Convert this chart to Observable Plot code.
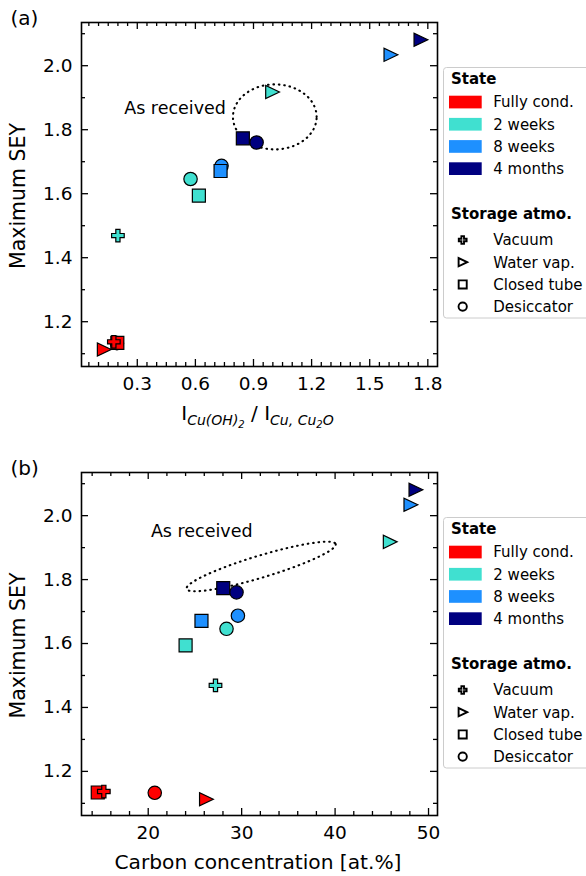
<!DOCTYPE html>
<html><head><meta charset="utf-8">
<script src="https://cdn.jsdelivr.net/npm/d3@7"></script>
<script src="https://cdn.jsdelivr.net/npm/@observablehq/plot@0.6"></script>
<style>
body{margin:0;background:#fff;}
#root{position:relative;width:586px;height:876px;font-family:"DejaVu Sans",sans-serif;overflow:hidden;background:#fff;}
.panel{position:absolute;left:0;}
.legend{position:absolute;left:443px;}
</style></head><body><div id="root"></div>
<script>
// ---------- data ----------
const states = ["Fully cond.", "2 weeks", "8 weeks", "4 months"];
const stateColors = ["#ff0000", "#40e0d0", "#1e90ff", "#000080"];
const atmos = ["Vacuum", "Water vap.", "Closed tube", "Desiccator"];

// samples, in drawing order
const sampleState = ["Fully cond.","Fully cond.","Fully cond.","Fully cond.",
  "2 weeks","2 weeks","2 weeks","2 weeks",
  "8 weeks","8 weeks","8 weeks",
  "4 months","4 months","4 months"];
const sampleAtmo = ["Desiccator","Water vap.","Closed tube","Vacuum",
  "Vacuum","Water vap.","Closed tube","Desiccator",
  "Water vap.","Desiccator","Closed tube",
  "Water vap.","Closed tube","Desiccator"];
const maxSEY =    [1.133, 1.113, 1.134, 1.137, 1.469, 1.918, 1.594, 1.646, 2.034, 1.687, 1.671, 2.081, 1.773, 1.760];
const ratioCuOH = [0.195, 0.128, 0.197, 0.179, 0.200, 0.997, 0.618, 0.575, 1.608, 0.735, 0.730, 1.763, 0.845, 0.916];
const carbon =    [20.7, 26.2, 14.6, 15.25, 27.2, 45.87, 24.0, 28.38, 48.08, 29.6, 25.7, 48.62, 28.03, 29.45];

// ticks
const yMajor = [1.2, 1.4, 1.6, 1.8, 2.0];
const yMinor = [1.1, 1.3, 1.5, 1.7, 1.9, 2.1];
const xMajorA = [0.3, 0.6, 0.9, 1.2, 1.5, 1.8];
const xMinorA = [0.05,0.1,0.15,0.2,0.25,0.35,0.4,0.45,0.5,0.55,0.65,0.7,0.75,0.8,0.85,0.95,1.0,1.05,1.1,1.15,1.25,1.3,1.35,1.4,1.45,1.55,1.6,1.65,1.7,1.75];
const xMajorB = [20, 30, 40, 50];
const xMinorB = [14, 16, 18, 22, 24, 26, 28, 32, 34, 36, 38, 42, 44, 46, 48];

// annotations: ellipse [cx, cy, semi-axis-1 (dx, dy), semi-axis-2 (dx, dy)] in data units
const ellipseA = [1.01, 1.84, 0.216, 0, 0, 0.1016];
const ellipseB = [32.08, 1.841, 7.98, 0.0703, 0.34, -0.0329];
const noteA = {x: 0.495, y: 1.8675, t: "As received"};
const noteB = {x: 25.73, y: 1.951, t: "As received"};

// ---------- symbols (matplotlib-like markers) ----------
const sc = size => Math.sqrt(size / Math.PI) / 7;
const symPlus = {draw(c, size){ const s = sc(size), a = 6.3*s, b = 2.1*s;
  c.moveTo(-b,-a); c.lineTo(b,-a); c.lineTo(b,-b); c.lineTo(a,-b); c.lineTo(a,b); c.lineTo(b,b);
  c.lineTo(b,a); c.lineTo(-b,a); c.lineTo(-b,b); c.lineTo(-a,b); c.lineTo(-a,-b); c.lineTo(-b,-b); c.closePath(); }};
const symTri = {draw(c, size){ const s = sc(size);
  c.moveTo(7.2*s, 0); c.lineTo(-6.6*s, -6.6*s); c.lineTo(-6.6*s, 6.6*s); c.closePath(); }};
const symSquare = {draw(c, size){ const s = sc(size), h = 6.5*s;
  c.moveTo(-h,-h); c.lineTo(h,-h); c.lineTo(h,h); c.lineTo(-h,h); c.closePath(); }};
const symCircle = {draw(c, size){ const r = 6.7*sc(size);
  c.moveTo(r, 0); c.arc(0, 0, r, 0, 2*Math.PI); c.closePath(); }};
const atmoSymbols = [symPlus, symTri, symSquare, symCircle];

function ellipsePts(e){
  const [cx, cy, ax, ay, bx, by] = e;
  return d3.range(0, 161).map(i => { const t = i/160*2*Math.PI;
    return {x: cx + ax*Math.cos(t) + bx*Math.sin(t), y: cy + ay*Math.cos(t) + by*Math.sin(t)}; });
}

function makePanel({xVals, xDomain, xMajor, xMinor, xFmt, height, marginBottom, yDomain, ell, note, tag}) {
  const W = 586, mL = 81, mR = 149, mT = 22;
  const fw = W - mL - mR, fh = height - mT - marginBottom;
  const data = maxSEY.map((y, i) => ({x: xVals[i], y, state: sampleState[i], atmo: sampleAtmo[i]}));
  const tk = {stroke: "black", strokeWidth: 1.3};
  const svg = Plot.plot({
    width: W, height, marginLeft: mL, marginRight: mR, marginTop: mT, marginBottom,
    style: {fontFamily: "DejaVu Sans, sans-serif", fontSize: "18.5px", background: "white", color: "black", overflow: "visible"},
    x: {domain: xDomain, ticks: xMajor, tickSize: 0, tickPadding: 10.5, tickFormat: xFmt, label: null},
    y: {domain: yDomain, ticks: yMajor, tickSize: 0, tickPadding: 9, tickFormat: d => d.toFixed(1), label: null},
    color: {domain: states, range: stateColors},
    symbol: {domain: atmos, range: atmoSymbols},
    marks: [
      Plot.line(ellipsePts(ell), {x: "x", y: "y", stroke: "black", strokeWidth: 2.1, strokeDasharray: "0.6,4.8", strokeLinecap: "round"}),
      Plot.text([note], {x: "x", y: "y", text: "t", fontSize: 17.5, fill: "black"}),
      Plot.dot(data, {x: "x", y: "y", fill: "state", symbol: "atmo", r: 7, stroke: "black", strokeWidth: 1.2}),
      // inward ticks on all four sides
      Plot.tickX(xMajor, {x: d => d, insetTop: fh - 7, ...tk}),
      Plot.tickX(xMajor, {x: d => d, insetBottom: fh - 7, ...tk}),
      Plot.tickX(xMinor, {x: d => d, insetTop: fh - 4, ...tk}),
      Plot.tickX(xMinor, {x: d => d, insetBottom: fh - 4, ...tk}),
      Plot.tickY(yMajor, {y: d => d, insetRight: fw - 7, ...tk}),
      Plot.tickY(yMajor, {y: d => d, insetLeft: fw - 7, ...tk}),
      Plot.tickY(yMinor, {y: d => d, insetRight: fw - 4, ...tk}),
      Plot.tickY(yMinor, {y: d => d, insetLeft: fw - 4, ...tk}),
      Plot.frame({stroke: "black", strokeWidth: 1.6})
    ]
  });
  const s = d3.select(svg);
  s.append("text").attr("x", 10.5).attr("y", 25).attr("text-anchor", "start")
    .attr("font-size", 20).attr("fill", "black").text(tag);
  s.append("text").attr("transform", `translate(24.9,${mT + fh/2 + 2}) rotate(-90)`)
    .attr("text-anchor", "middle").attr("font-size", 20.5).attr("fill", "black").text("Maximum SEY");
  return svg;
}

function makeLegend(top) {
  const L = d3.create("svg").attr("class", "legend").attr("width", 143).attr("height", 252)
    .style("top", top + "px").style("font-family", "DejaVu Sans, sans-serif");
  L.append("rect").attr("x", 0.5).attr("y", 0.5).attr("width", 170).attr("height", 250.5).attr("rx", 3)
    .attr("fill", "white").attr("stroke", "#cccccc").attr("stroke-width", 1);
  L.append("text").attr("x", 8).attr("y", 16.5).attr("font-size", 15).attr("font-weight", "bold").text("State");
  states.forEach((st, i) => {
    const cy = 35 + i*22.2;
    L.append("rect").attr("x", 6).attr("y", cy - 6.3).attr("width", 32.7).attr("height", 12.7).attr("fill", stateColors[i]);
    L.append("text").attr("x", 50.3).attr("y", cy + 5.4).attr("font-size", 15).text(st);
  });
  L.append("text").attr("x", 8).attr("y", 152).attr("font-size", 15).attr("font-weight", "bold").text("Storage atmo.");
  atmos.forEach((a, i) => {
    const cy = 173 + i*22.2;
    const p = d3.path();
    atmoSymbols[i].draw(p, Math.PI * Math.pow(7*0.62, 2));
    L.append("path").attr("d", p.toString()).attr("transform", `translate(19.7,${cy})`)
      .attr("fill", "white").attr("stroke", "black").attr("stroke-width", 1.9);
    L.append("text").attr("x", 50.3).attr("y", cy + 5.4).attr("font-size", 15).text(a);
  });
  return L.node();
}

const root = document.getElementById("root");

// panel (a)
const pa = document.createElement("div"); pa.className = "panel"; pa.style.top = "0px";
const svgA = makePanel({xVals: ratioCuOH, xDomain: [0.012, 1.85], xMajor: xMajorA, xMinor: xMinorA,
  xFmt: d => d.toFixed(1), height: 450, marginBottom: 84, yDomain: [1.06, 2.135], ell: ellipseA, note: noteA, tag: "(a)"});
// x label with sub-scripts
const xa = d3.select(svgA).append("text").attr("x", 257.5).attr("y", 420).attr("text-anchor", "middle")
  .attr("font-size", 20).attr("fill", "black");
xa.append("tspan").text("I");
xa.append("tspan").attr("font-size", 14).attr("font-style", "italic").attr("dy", 5).text("Cu(OH)");
xa.append("tspan").attr("font-size", 10).attr("font-style", "italic").attr("dy", 3).text("2");
xa.append("tspan").attr("dy", -8).text(" / I");
xa.append("tspan").attr("font-size", 14).attr("font-style", "italic").attr("dy", 5).text("Cu, Cu");
xa.append("tspan").attr("font-size", 10).attr("font-style", "italic").attr("dy", 3).text("2");
xa.append("tspan").attr("font-size", 14).attr("font-style", "italic").attr("dy", -3).text("O");
pa.appendChild(svgA);
root.appendChild(pa);
root.appendChild(makeLegend(67));

// panel (b)
const pb = document.createElement("div"); pb.className = "panel"; pb.style.top = "450px";
const svgB = makePanel({xVals: carbon, xDomain: [12.86, 50.96], xMajor: xMajorB, xMinor: xMinorB,
  xFmt: d => String(d), height: 426, marginBottom: 61, yDomain: [1.062, 2.135], ell: ellipseB, note: noteB, tag: "(b)"});
d3.select(svgB).append("text").attr("x", 258).attr("y", 418.5).attr("text-anchor", "middle")
  .attr("font-size", 20.2).attr("fill", "black").text("Carbon concentration [at.%]");
pb.appendChild(svgB);
root.appendChild(pb);
root.appendChild(makeLegend(517));
</script>
</body></html>
